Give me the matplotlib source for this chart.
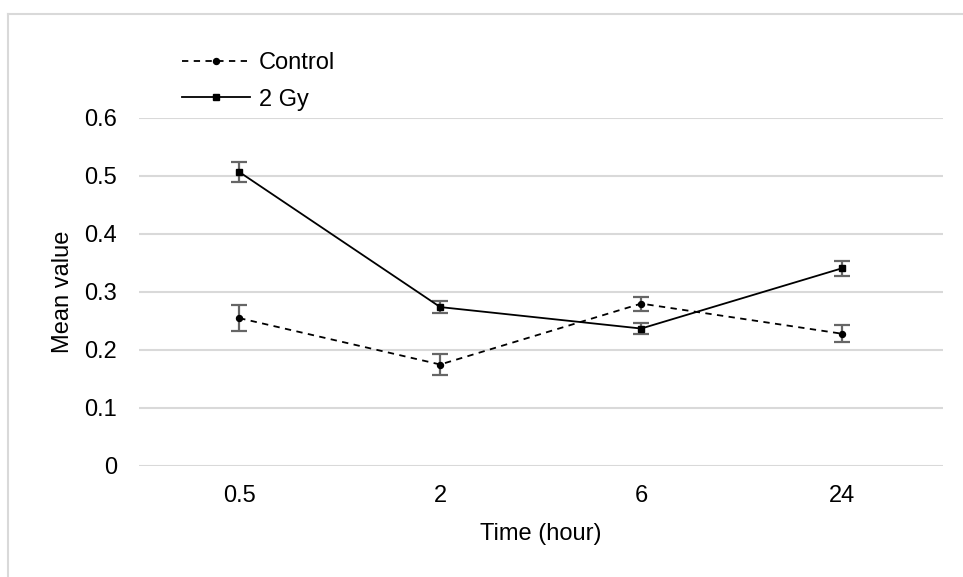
import matplotlib
matplotlib.use("Agg")
import numpy as np
from matplotlib import pyplot as plt
from matplotlib.lines import Line2D

plt.rcParams['font.family'] = ['Liberation Sans', 'DejaVu Sans']

time_labels = ["0.5", "2", "6", "24"]
control_mean = [0.255, 0.175, 0.280, 0.228]
control_err = [0.022, 0.018, 0.012, 0.015]
gy2_mean = [0.507, 0.274, 0.237, 0.341]
gy2_err = [0.017, 0.010, 0.009, 0.013]

fs = 17
x = np.arange(len(time_labels))

fig = plt.figure(figsize=(9.63, 5.77), dpi=100)
ax = fig.add_axes([138.7/963, 1-466/577, (942.7-138.7)/963, (466-118)/577])

# error bars
ax.errorbar(x, control_mean, yerr=control_err, fmt='none', ecolor='#666666',
            elinewidth=1.6, capsize=5.8, capthick=1.6, zorder=2)
ax.errorbar(x, gy2_mean, yerr=gy2_err, fmt='none', ecolor='#666666',
            elinewidth=1.6, capsize=5.8, capthick=1.6, zorder=2)

ax.plot(x, control_mean, color='black', linestyle=(0, (3.5, 3)), linewidth=1.3,
        marker='o', markersize=4.3, label='Control', zorder=3)
ax.plot(x, gy2_mean, color='black', linestyle='-', linewidth=1.3,
        marker='s', markersize=4.0, label='2 Gy', zorder=3)

ax.set_xlim(-0.5, 3.5)
ax.set_ylim(0, 0.6)
ax.set_yticks([0, 0.1, 0.2, 0.3, 0.4, 0.5, 0.6])
ax.set_yticklabels(["0", "0.1", "0.2", "0.3", "0.4", "0.5", "0.6"])
ax.set_xticks(x)
ax.set_xticklabels(time_labels)
ax.tick_params(axis='both', length=0, labelsize=fs)
ax.tick_params(axis='y', pad=15.5)
ax.tick_params(axis='x', pad=14)
ax.yaxis.grid(True, color='#d9d9d9', linewidth=1.5)
ax.set_axisbelow(True)
for s in ax.spines.values():
    s.set_visible(False)

ax.set_xlabel("Time (hour)", fontsize=fs, labelpad=11.5)
ax.set_ylabel("Mean value", fontsize=fs, labelpad=7.5)

fig.legend(loc='upper left', bbox_to_anchor=(182/963, 1-52/577), frameon=False,
           fontsize=fs, handlelength=2.9, handletextpad=0.35, labelspacing=0.62,
           borderpad=0, borderaxespad=0)

# chart border (only top and left visible)
fig.add_artist(Line2D([8/963, 1], [1-14/577, 1-14/577], transform=fig.transFigure,
                      color='#d9d9d9', linewidth=1.5))
fig.add_artist(Line2D([8/963, 8/963], [0, 1-14/577], transform=fig.transFigure,
                      color='#d9d9d9', linewidth=1.5))

fig.savefig("out.png", dpi=100)
